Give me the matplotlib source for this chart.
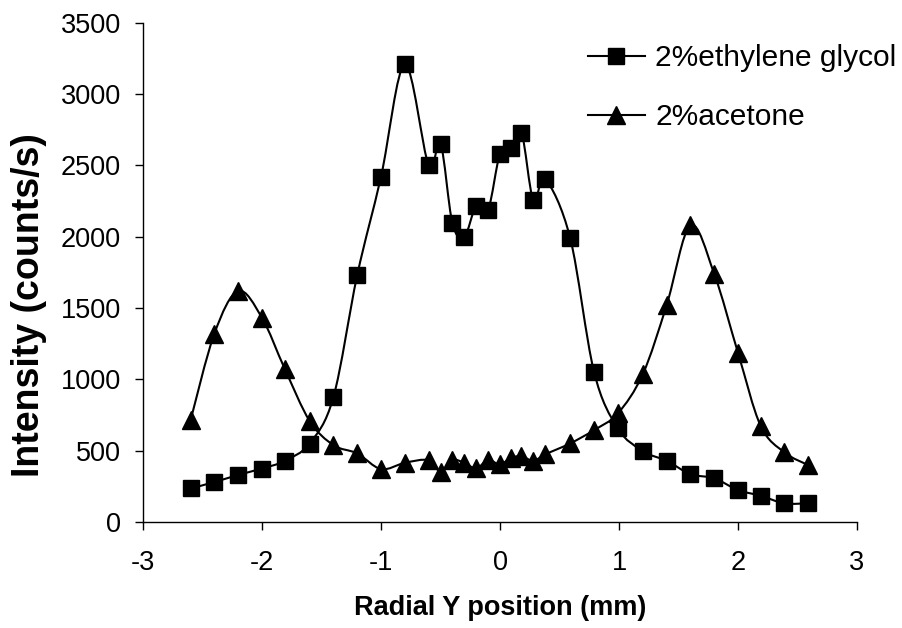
import matplotlib
matplotlib.use("Agg")
import matplotlib.pyplot as plt
from matplotlib.path import Path
from matplotlib.patches import PathPatch
from matplotlib.lines import Line2D

plt.rcParams['font.family'] = ['Liberation Sans', 'DejaVu Sans']
plt.rcParams['axes.unicode_minus'] = False

# radial positions (mm)
pos = [-2.6, -2.4, -2.2, -2.0, -1.81, -1.6, -1.4, -1.2, -1.0, -0.8, -0.6, -0.5,
       -0.4, -0.3, -0.2, -0.1, 0.0, 0.09, 0.18, 0.28, 0.38, 0.59, 0.79, 0.99,
       1.2, 1.4, 1.6, 1.8, 2.0, 2.19, 2.39, 2.59]

# intensity (counts/s)
glycol = [235, 280, 330, 375, 428, 550, 875, 1730, 2420, 3207, 2500, 2652,
          2095, 2000, 2215, 2190, 2582, 2622, 2730, 2255, 2402, 1990, 1053, 656,
          497, 429, 336, 306, 224, 184, 131, 131]
acetone = [714, 1321, 1620, 1431, 1076, 709, 539, 481, 371, 415, 434, 352,
           434, 415, 376, 434, 404, 448, 462, 429, 474, 551, 644, 761,
           1036, 1519, 2080, 1740, 1186, 675, 488, 399]

labels = ["2%ethylene glycol", "2%acetone"]


def smooth_path(xs, ys):
    # excel-like smoothed line: cubic bezier through every point
    pts = list(zip(xs, ys))
    verts = [pts[0]]
    codes = [Path.MOVETO]
    n = len(pts)
    for i in range(n - 1):
        p0 = pts[max(i - 1, 0)]
        p1 = pts[i]
        p2 = pts[i + 1]
        p3 = pts[min(i + 2, n - 1)]
        c1 = (p1[0] + (p2[0] - p0[0]) / 6, p1[1] + (p2[1] - p0[1]) / 6)
        c2 = (p2[0] - (p3[0] - p1[0]) / 6, p2[1] - (p3[1] - p1[1]) / 6)
        verts += [c1, c2, p2]
        codes += [Path.CURVE4] * 3
    return Path(verts, codes)


fig = plt.figure(figsize=(9.02, 6.28), dpi=100)
ax = fig.add_axes([143 / 902, 1 - 522 / 628, 714 / 902, (522 - 22.7) / 628])

for ys, mk, ms in [(glycol, 's', 11.5), (acetone, '^', 12.5)]:
    ax.add_patch(PathPatch(smooth_path(pos, ys), fc='none', ec='black', lw=1.5, zorder=2))
    ax.plot(pos, ys, ls='none', marker=mk, ms=ms, color='black', zorder=3)

ax.set_xlim(-3, 3)
ax.set_ylim(0, 3500)
ax.set_xticks([-3, -2, -1, 0, 1, 2, 3])
ax.set_yticks(range(0, 3501, 500))
ax.spines['top'].set_visible(False)
ax.spines['right'].set_visible(False)
for s in ['left', 'bottom']:
    ax.spines[s].set_linewidth(1.0)
ax.tick_params(direction='out', length=6, width=1, labelsize=19.5)
ax.tick_params(axis='x', pad=14)
ax.tick_params(axis='y', pad=10)

ax.set_xlabel("Radial Y position (mm)", fontsize=19.5, fontweight='bold', labelpad=14)
ax.set_ylabel("Intensity (counts/s)", fontsize=27, fontweight='bold')
ax.yaxis.set_label_coords(-0.135, 0.435)

handles = [Line2D([], [], color='black', lw=1.5, marker='s', ms=11.5),
           Line2D([], [], color='black', lw=1.5, marker='^', ms=12.5)]
ax.legend(handles, labels, loc='upper left', bbox_to_anchor=(588 / 902, 1 - 44 / 628),
          bbox_transform=fig.transFigure, frameon=False, fontsize=21.5,
          handlelength=1.9, handletextpad=0.35, labelspacing=1.05,
          borderpad=0, borderaxespad=0)

fig.savefig("out.png", dpi=100)
